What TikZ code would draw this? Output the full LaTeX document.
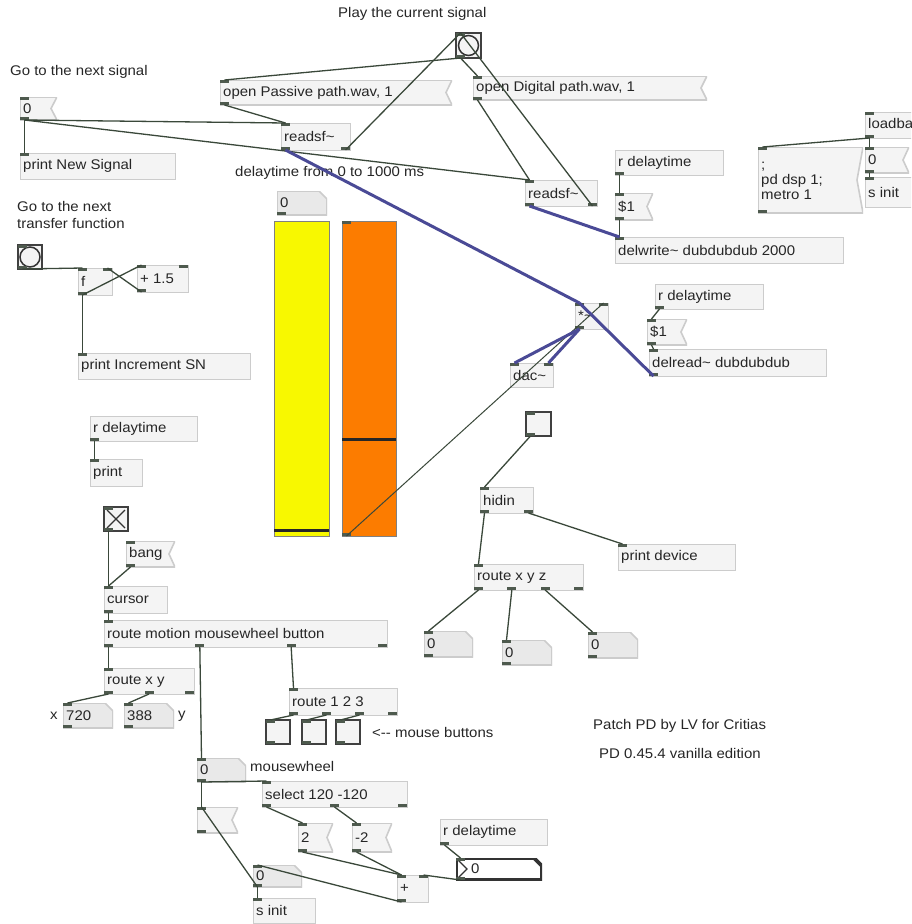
\documentclass[tikz,border=0pt]{standalone}
\usepackage{fontspec}
\setmainfont{Liberation Sans}[FakeStretch=1.07]
\usetikzlibrary{calc}
\usetikzlibrary{positioning}
\definecolor{boxfill}{RGB}{244,244,244}
\definecolor{boxline}{RGB}{204,204,204}
\definecolor{atomfill}{RGB}{233,233,233}
\definecolor{portcol}{RGB}{78,90,78}
\definecolor{wirecol}{RGB}{58,72,58}
\definecolor{sigcol}{RGB}{74,74,150}
\definecolor{yel}{RGB}{248,248,0}
\definecolor{ora}{RGB}{252,124,0}

% inlets and outlets of a box: name, inlets, outlets
\newcommand\pdio[3]{%
  \ifnum#2>0
    \foreach \k in {1,...,#2}{%
      \ifnum#2=1 \def\f{0}\else\pgfmathsetmacro\f{(\k-1)/(#2-1)}\fi
      \path ($(#1.north west)!\f!([xshift=-9pt]#1.north east)$) coordinate (#1-il\k) ++(4.5,0) coordinate (#1-i\k);
      \fill[port] (#1-il\k) rectangle ++(9,3);
    }%
  \fi
  \ifnum#3>0
    \foreach \k in {1,...,#3}{%
      \ifnum#3=1 \def\f{0}\else\pgfmathsetmacro\f{(\k-1)/(#3-1)}\fi
      \path ($(#1.south west)!\f!([xshift=-9pt]#1.south east)$) coordinate (#1-ol\k) ++(4.5,0) coordinate (#1-o\k);
      \fill[port] (#1-ol\k) rectangle ++(9,-3);
    }%
  \fi
}

\begin{document}
\begin{tikzpicture}
	[x=1pt,y=-1pt,
	box/.style={rectangle, anchor=north west, inner sep=0pt, outer sep=0pt, fill=boxfill, draw=boxline, line width=0.8pt},
	sz/.style 2 args={minimum width=#1, minimum height=#2},
	lbl/.style={anchor=west, inner sep=0pt, xshift=3pt, align=left, font=\fontsize{14}{15}\selectfont, text=black!85},
	t/.style={label={[lbl]west:{#1}}},
	msg/.style={box, fill=none, draw=none, path picture={
		\filldraw[fill=boxfill, draw=boxline, line width=1.6pt] (path picture bounding box.north west) -- (path picture bounding box.north east)
		-- ([xshift=-6pt]path picture bounding box.east) -- (path picture bounding box.south east) -- (path picture bounding box.south west) -- cycle;}},
	atom/.style={box, fill=none, draw=none, path picture={
		\filldraw[fill=atomfill, draw=boxline, line width=1.6pt] (path picture bounding box.north west) -- ([xshift=-8pt]path picture bounding box.north east)
		-- ([yshift=-8pt]path picture bounding box.north east) -- (path picture bounding box.south east) -- (path picture bounding box.south west) -- cycle;}},
	nbx/.style={box, fill=none, draw=none, path picture={
		\filldraw[fill=white, draw=black!80, line width=3.6pt] (path picture bounding box.north west) -- ([xshift=-8pt]path picture bounding box.north east)
		-- ([yshift=-8pt]path picture bounding box.north east) -- (path picture bounding box.south east) -- (path picture bounding box.south west) -- cycle;
		\draw[black!80, line width=1.3pt] ([shift={(2pt,-2pt)}]path picture bounding box.north west) -- ([xshift=11pt]path picture bounding box.west)
		-- ([shift={(2pt,2pt)}]path picture bounding box.south west);}},
	tgl/.style={box, draw=black!75, line width=1.5pt},
	bng/.style={tgl, path picture={\draw[black!80, line width=1.5pt] (path picture bounding box.center) circle (10pt);}},
	tglx/.style={tgl, path picture={\draw[black!80, line width=1.2pt]
		([shift={(3pt,-3pt)}]path picture bounding box.north west) -- ([shift={(-3pt,3pt)}]path picture bounding box.south east)
		([shift={(-3pt,-3pt)}]path picture bounding box.north east) -- ([shift={(3pt,3pt)}]path picture bounding box.south west);}},
	slider/.style={box, draw=black!50, line width=0.8pt},
	cmt/.style={anchor=west, inner sep=0pt, font=\fontsize{14}{15}\selectfont, text=black!85},
	port/.style={fill=portcol},
	wire/.style={wirecol, line width=1.3pt},
	sig/.style={sigcol, line width=3pt}]
	\useasboundingbox (0,0) rectangle (911,924);
	\fill[white] (0,0) rectangle (911,924);
	\clip (0,0) rectangle (911,924);

	% comments
	\node[cmt] (cPlay) at (338,14) {Play the current signal};
	\node[cmt] (cNext) at (10,72) {Go to the next signal};
	\node[cmt] (cDelay) at (235,173) {delaytime from 0 to 1000 ms};
	\node[cmt] (cTf1) at (17,206) {Go to the next};
	\node[cmt] (cTf2) at (17,223) {transfer function};
	\node[cmt] (cX) at (50,716) {x};
	\node[cmt] (cY) at (178,716) {y};
	\node[cmt] (cMb) at (372,732) {<-{}- mouse buttons};
	\node[cmt] (cWheel) at (250,766) {mousewheel};
	\node[cmt] (cPatch) at (593,726) {Patch PD by LV for Critias};
	\node[cmt] (cVer) at (599,753) {PD 0.45.4 vanilla edition};

	% players
	\node[msg, sz={37}{23}, t={0}] (zeroA) at (20,97) {}; \pdio{zeroA}{1}{1}
	\node[box, sz={155}{26}, t={print New Signal}] (prNew) at (20,153) {}; \pdio{prNew}{1}{0}
	\node[msg, sz={232}{25}, t={open Passive path.wav, 1}] (opP) at (220,80) {}; \pdio{opP}{1}{1}
	\node[box, sz={69}{27}, t={readsf\textasciitilde}] (rsfA) at (281,123) {}; \pdio{rsfA}{1}{2}
	\node[bng, sz={25}{25}] (play) at (456,33) {}; \pdio{play}{1}{1}
	\node[msg, sz={234}{24}, t={open Digital path.wav, 1}] (opD) at (473,76) {}; \pdio{opD}{1}{1}
	\node[box, sz={72}{26}, t={readsf\textasciitilde}] (rsfB) at (525,180) {}; \pdio{rsfB}{1}{2}
	\node[box, sz={108}{25}, t={r delaytime}] (rdtA) at (615,150) {}; \pdio{rdtA}{0}{1}
	\node[msg, sz={38}{27}, t={\$1}] (dlA) at (615,193) {}; \pdio{dlA}{1}{1}
	\node[box, sz={228}{26}, t={delwrite\textasciitilde\ dubdubdub 2000}] (dw) at (615,237) {}; \pdio{dw}{1}{0}
	\node[msg, sz={105}{66}, label={[lbl,yshift=-1pt]west:{;\\pd dsp 1;\\metro 1}}] (dsp) at (758,147) {}; \pdio{dsp}{1}{1}
	\node[box, sz={64}{26}, t={loadbang}] (lb) at (865,112) {}; \pdio{lb}{1}{1}
	\node[msg, sz={44}{26}, t={0}] (zeroB) at (865,147) {}; \pdio{zeroB}{1}{1}
	\node[box, sz={62}{30}, t={s init}] (sinitA) at (865,177) {}; \pdio{sinitA}{1}{0}

	% transfer function counter
	\node[bng, sz={24}{24}] (bngT) at (18,245) {}; \pdio{bngT}{1}{1}
	\node[box, sz={34}{27}, t={f}] (fA) at (78,268) {}; \pdio{fA}{2}{1}
	\node[box, sz={51}{27}, t={+ 1.5}] (addA) at (137,265) {}; \pdio{addA}{2}{1}
	\node[box, sz={172}{26}, t={print Increment SN}] (prInc) at (78,353) {}; \pdio{prInc}{1}{0}
	\node[box, sz={107}{25}, t={r delaytime}] (rdtB) at (90,416) {}; \pdio{rdtB}{0}{1}
	\node[box, sz={52}{27}, t={print}] (prB) at (90,459) {}; \pdio{prB}{1}{0}

	% sliders
	\node[atom, sz={50}{24}, t={0}] (nTop) at (277,191) {}; \pdio{nTop}{0}{1}
	\node[slider, fill=yel, sz={55}{315}] (slY) at (274,221) {};
	\node[slider, fill=ora, sz={54}{315}] (slO) at (342,221) {}; \pdio{slO}{1}{1}
	\draw[line width=3pt, black!85] ([yshift=6pt]slY.south west) -- ([yshift=6pt]slY.south east);
	\draw[line width=3pt, black!85] ([yshift=97pt]slO.south west) -- ([yshift=97pt]slO.south east);

	% output and delay
	\node[box, sz={33}{26}, t={*\textasciitilde}] (mul) at (575,303) {}; \pdio{mul}{2}{1}
	\node[box, sz={43}{24}, t={dac\textasciitilde}] (dac) at (510,363) {}; \pdio{dac}{2}{0}
	\node[box, sz={108}{25}, t={r delaytime}] (rdtC) at (655,284) {}; \pdio{rdtC}{0}{1}
	\node[msg, sz={40}{26}, t={\$1}] (dlB) at (647,319) {}; \pdio{dlB}{1}{1}
	\node[box, sz={177}{27}, t={delread\textasciitilde\ dubdubdub}] (dr) at (649,349) {}; \pdio{dr}{1}{1}

	% hid
	\node[tgl, sz={25}{24}] (tgH) at (526,412) {}; \pdio{tgH}{1}{1}
	\node[box, sz={53}{26}, t={hidin}] (hid) at (480,487) {}; \pdio{hid}{1}{2}
	\node[box, sz={117}{26}, t={print device}] (prDev) at (618,544) {}; \pdio{prDev}{1}{0}
	\node[box, sz={109}{26}, t={route x y z}] (rxyz) at (474,564) {}; \pdio{rxyz}{1}{4}
	\node[atom, sz={49}{26}, t={0}] (nbA) at (424,631) {}; \pdio{nbA}{1}{1}
	\node[atom, sz={50}{25}, t={0}] (nbB) at (502,640) {}; \pdio{nbB}{1}{1}
	\node[atom, sz={50}{26}, t={0}] (nbC) at (588,632) {}; \pdio{nbC}{1}{1}

	% mouse
	\node[tglx, sz={24}{24}] (tgX) at (104,507) {}; \pdio{tgX}{1}{1}
	\node[msg, sz={49}{26}, t={bang}] (bngM) at (126,541) {}; \pdio{bngM}{1}{1}
	\node[box, sz={63}{27}, t={cursor}] (cur) at (104,586) {}; \pdio{cur}{1}{1}
	\node[box, sz={283}{27}, t={route motion mousewheel button}] (rmmb) at (104,620) {}; \pdio{rmmb}{1}{4}
	\node[box, sz={90}{26}, t={route x y}] (rxy) at (104,668) {}; \pdio{rxy}{1}{3}
	\node[box, sz={108}{27}, t={route 1 2 3}] (rbtn) at (289,688) {}; \pdio{rbtn}{1}{4}
	\node[atom, sz={50}{25}, t={720}] (nbX) at (63,703) {}; \pdio{nbX}{1}{1}
	\node[atom, sz={50}{25}, t={388}] (nbY) at (124,703) {}; \pdio{nbY}{1}{1}
	\node[tgl, sz={24}{24}] (tgA) at (266,720) {}; \pdio{tgA}{1}{1}
	\node[tgl, sz={24}{24}] (tgB) at (302,720) {}; \pdio{tgB}{1}{1}
	\node[tgl, sz={24}{24}] (tgC) at (336,720) {}; \pdio{tgC}{1}{1}
	\node[atom, sz={49}{24}, t={0}] (nbW) at (197,758) {}; \pdio{nbW}{1}{1}
	\node[box, sz={145}{26}, t={select 120 -120}] (sel) at (262,781) {}; \pdio{sel}{1}{3}
	\node[msg, sz={41}{26}] (emsg) at (197,807) {}; \pdio{emsg}{1}{1}
	\node[msg, sz={35}{29}, t={2}] (two) at (298,823) {}; \pdio{two}{1}{1}
	\node[msg, sz={40}{29}, t={-2}] (mtwo) at (352,823) {}; \pdio{mtwo}{1}{1}
	\node[box, sz={107}{26}, t={r delaytime}] (rdtD) at (440,819) {}; \pdio{rdtD}{0}{1}
	\node[box, sz={31}{27}, t={+}] (add) at (397,875) {}; \pdio{add}{2}{1}
	\node[nbx, sz={86}{22}, label={[lbl,xshift=12pt]west:0}] (nbI) at (456,858) {}; \pdio{nbI}{1}{1}
	\node[atom, sz={49}{22}, t={0}] (nbZ) at (253,865) {}; \pdio{nbZ}{1}{1}
	\node[box, sz={62}{25}, t={s init}] (sinitB) at (253,898) {}; \pdio{sinitB}{1}{0}

	% connections
	\draw[wire] (zeroA-o1) -- (prNew-i1);
	\draw[wire] (zeroA-o1) -- (rsfA-i1);
	\draw[wire] (zeroA-o1) -- (rsfB-i1);
	\draw[wire] (opP-o1) -- (rsfA-i1);
	\draw[wire] (play-o1) -- (opP-i1);
	\draw[wire] (play-o1) -- (opD-i1);
	\draw[wire] (rsfA-o2) -- (play-i1);
	\draw[wire] (rsfB-o2) -- (play-i1);
	\draw[wire] (opD-o1) -- (rsfB-i1);
	\draw[wire] (rdtA-o1) -- (dlA-i1);
	\draw[wire] (dlA-o1) -- (dw-i1);
	\draw[wire] (lb-o1) -- (dsp-i1);
	\draw[wire] (lb-o1) -- (zeroB-i1);
	\draw[wire] (zeroB-o1) -- (sinitA-i1);
	\draw[wire] (bngT-o1) -- (fA-i1);
	\draw[wire] (fA-o1) -- (addA-i1);
	\draw[wire] (addA-o1) -- (fA-i2);
	\draw[wire] (fA-o1) -- (prInc-i1);
	\draw[wire] (rdtB-o1) -- (prB-i1);
	\draw[wire, line width=1pt] (slO-o1) -- (mul-i2);
	\draw[wire] (rdtC-o1) -- (dlB-i1);
	\draw[wire] (dlB-o1) -- (dr-i1);
	\draw[wire] (tgH-o1) -- (hid-i1);
	\draw[wire] (hid-o1) -- (rxyz-i1);
	\draw[wire] (hid-o2) -- (prDev-i1);
	\draw[wire] (rxyz-o1) -- (nbA-i1);
	\draw[wire] (rxyz-o2) -- (nbB-i1);
	\draw[wire] (rxyz-o3) -- (nbC-i1);
	\draw[wire] (tgX-o1) -- (cur-i1);
	\draw[wire] (bngM-o1) -- (cur-i1);
	\draw[wire] (cur-o1) -- (rmmb-i1);
	\draw[wire] (rmmb-o1) -- (rxy-i1);
	\draw[wire] (rmmb-o2) -- (nbW-i1);
	\draw[wire] (rmmb-o3) -- (rbtn-i1);
	\draw[wire] (rxy-o1) -- (nbX-i1);
	\draw[wire] (rxy-o2) -- (nbY-i1);
	\draw[wire] (rbtn-o1) -- (tgA-i1);
	\draw[wire] (rbtn-o2) -- (tgB-i1);
	\draw[wire] (rbtn-o3) -- (tgC-i1);
	\draw[wire] (nbW-o1) -- (sel-i1);
	\draw[wire] (nbW-o1) -- (emsg-i1);
	\draw[wire] (nbZ-o1) -- (emsg-i1);
	\draw[wire] (sel-o1) -- (two-i1);
	\draw[wire] (sel-o2) -- (mtwo-i1);
	\draw[wire] (two-o1) -- (add-i1);
	\draw[wire] (mtwo-o1) -- (add-i1);
	\draw[wire] (add-o1) -- (nbZ-i1);
	\draw[wire] (nbI-o1) -- (add-i2);
	\draw[wire] (rdtD-o1) -- (nbI-i1);
	\draw[wire] (nbZ-o1) -- (sinitB-i1);
	\draw[sig] (rsfB-o1) -- (dw-i1);
	\draw[sig] (rsfA-o1) -- (mul-i1);
	\draw[sig] (dr-o1) -- (mul-i1);
	\draw[sig] (mul-o1) -- (dac-i1);
	\draw[sig] (mul-o1) -- (dac-i2);
\end{tikzpicture}
\end{document}
